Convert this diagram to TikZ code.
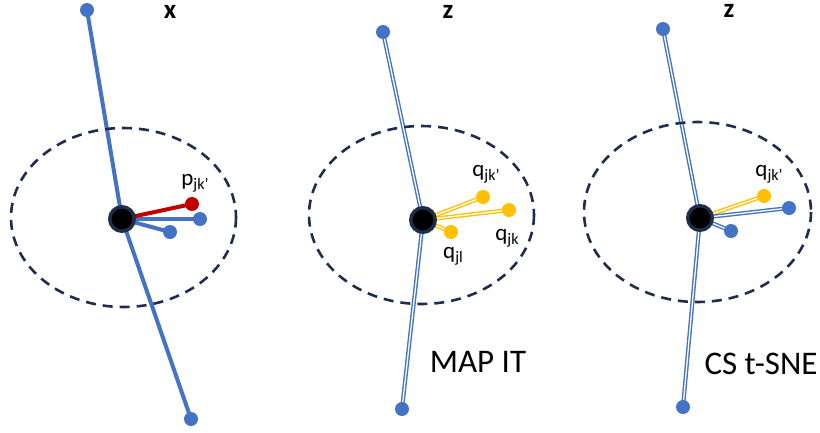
\documentclass[tikz,border=0pt]{standalone}
\usepackage{fontspec}
\setmainfont{Carlito}
\usepackage{graphicx}
\definecolor{pblue}{HTML}{4472C4}
\definecolor{pred}{HTML}{C00000}
\definecolor{pyel}{HTML}{FFC000}
\definecolor{navy}{HTML}{1F2D4D}
\newcommand\lowsub[1]{\raisebox{-0.35ex}{\fontsize{16}{16}\selectfont #1}}
\pgfdeclarelayer{bg}
\pgfsetlayers{bg,main}
\tikzset{
  dotb/.style={circle,fill=pblue,inner sep=0pt,minimum size=14pt},
  doty/.style={circle,fill=pyel,inner sep=0pt,minimum size=14pt},
  dotr/.style={circle,fill=pred,inner sep=0pt,minimum size=14pt},
  hub/.style={circle,fill=black,draw=navy,line width=3.5pt,inner sep=0pt,minimum size=24.5pt},
  solidb/.style={draw=pblue,line width=4pt},
  solidr/.style={draw=pred,line width=4pt},
  dblb/.style={draw=pblue,line width=1.4pt,double=white,double distance=1.3pt},
  dbly/.style={draw=pyel,line width=1.4pt,double=white,double distance=1.3pt},
  ring/.style={draw=navy,line width=2.6pt,dash pattern=on 10pt off 7pt},
  lab/.style={font=\fontsize{23}{25}\selectfont,inner sep=0pt},
  head/.style={font=\fontsize{27}{29}\selectfont\bfseries,inner sep=0pt,
    anchor=base,text height=1.1ex,text depth=0pt},
  big/.style={font=\fontsize{33}{35}\selectfont,inner sep=0pt}
}
\begin{document}
\begin{tikzpicture}[x=1pt,y=-1pt]
\useasboundingbox (0,0) rectangle (820,432);
% ---------- panel 1
\node[dotb] (t1) at (87,10) {};
\node[dotb] (b1) at (191,419) {};
\node[dotr] (r1) at (192,204) {};
\node[dotb] (k1) at (200,219) {};
\node[dotb] (l1) at (170,232) {};
\node[hub] (c1) at (122,219) {};
\node[head] (hx) at (170,18) {x};
\node[lab] (lp) at (195,183) {p\lowsub{jk’}};
% ---------- panel 2
\node[dotb] (t2) at (383,32) {};
\node[dotb] (b2) at (402,409) {};
\node[doty] (r2) at (483,197) {};
\node[doty] (k2) at (509,210) {};
\node[doty] (l2) at (451,232) {};
\node[hub] (c2) at (423,220) {};
\node[head] (hz2) at (448,18) {z};
\node[lab] (lq2a) at (486,174) {q\lowsub{jk’}};
\node[lab] (lq2b) at (507,238) {q\lowsub{jk}};
\node[lab] (lq2c) at (453,256) {q\lowsub{jl}};
\node[big] (m2) at (478,362) {MAP IT};
% ---------- panel 3
\node[dotb] (t3) at (663,29) {};
\node[dotb] (b3) at (683,407) {};
\node[doty] (r3) at (764,196) {};
\node[dotb] (k3) at (789,208) {};
\node[dotb] (l3) at (731,231) {};
\node[hub] (c3) at (700,218) {};
\node[head] (hz3) at (729,17) {z};
\node[lab] (lq3) at (769,174) {q\lowsub{jk’}};
\node[big] (m3) at (761,364) {CS t-SNE};
\begin{pgfonlayer}{bg}
  % panel 1 connectors
  \draw[solidb] (t1.center) -- (c1.center) -- (b1.center);
  \draw[solidb] (c1.center) -- (k1.center);
  \draw[solidb] (c1.center) -- (l1.center);
  \draw[solidr] (c1.center) -- (r1.center);
  \draw[ring] (123.5,217.5) ellipse [x radius=112.5, y radius=89.5];
  % panel 2 connectors
  \draw[dblb] (t2.center) -- (c2.center);
  \draw[dblb] (c2.center) -- (b2.center);
  \draw[dbly] (c2.center) -- (r2.center);
  \draw[dbly] (c2.center) -- (k2.center);
  \draw[dbly] (c2.center) -- (l2.center);
  \draw[ring] (421.5,215) ellipse [x radius=112.5, y radius=89];
  % panel 3 connectors
  \draw[dblb] (t3.center) -- (c3.center);
  \draw[dblb] (c3.center) -- (b3.center);
  \draw[dbly] (c3.center) -- (r3.center);
  \draw[dblb] (c3.center) -- (k3.center);
  \draw[dblb] (c3.center) -- (l3.center);
  \draw[ring] (697.5,212) ellipse [x radius=113.5, y radius=90];
\end{pgfonlayer}
\end{tikzpicture}
\end{document}
